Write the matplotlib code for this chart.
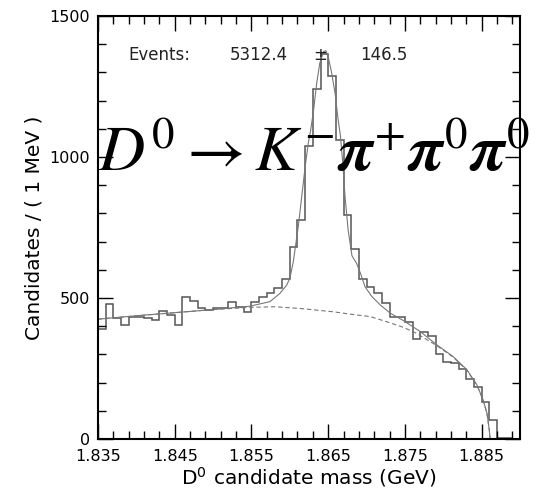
import numpy as np
import matplotlib
matplotlib.use("Agg")
import matplotlib.pyplot as plt

# ---------------- data ----------------
mass_lo = 1.835
bin_width = 0.001
counts = [390, 478, 428, 403, 434, 433, 428, 422, 455, 438,
          403, 502, 490, 463, 457, 463, 465, 487, 469, 452,
          487, 505, 519, 534, 566, 680, 775, 1040, 1240, 1365,
          1287, 1062, 796, 672, 566, 540, 519, 481, 431, 431,
          416, 356, 380, 366, 302, 273, 268, 249, 211, 184,
          130, 67, 3, 2, 0]

fit_x = [1.8350, 1.8400, 1.8450, 1.8500, 1.8548, 1.8574, 1.8587, 1.8596,
         1.8600, 1.86045, 1.8611, 1.86155, 1.8620, 1.8624, 1.8627, 1.8631,
         1.8635, 1.8639, 1.8644, 1.8647, 1.8650, 1.86546, 1.8659, 1.8663,
         1.8666, 1.8669, 1.8672, 1.8676, 1.8681, 1.8687, 1.8692, 1.8698,
         1.8707, 1.8718, 1.8731, 1.8748, 1.8770, 1.8791, 1.8813, 1.8831,
         1.8844, 1.8852, 1.8857, 1.8860, 1.8861]
fit_y = [425, 437, 448, 459, 471, 487, 516, 546,
         570, 628, 753, 859, 966, 1048, 1092, 1167,
         1261, 1332, 1374, 1377, 1356, 1297, 1226, 1131,
         1075, 978, 859, 741, 650, 623, 588, 540,
         505, 475, 446, 420, 381, 335, 292, 245,
         191, 138, 91, 32, 0]

bkg_x = [1.8350, 1.8400, 1.8450, 1.8500, 1.8550, 1.8580, 1.8613, 1.8635,
         1.8657, 1.8678, 1.8705, 1.8726, 1.8748, 1.8765, 1.8780, 1.8791,
         1.8813, 1.8831, 1.8844, 1.8852, 1.8857, 1.8860, 1.8861]
bkg_y = [425, 437, 448, 459, 467, 469, 463, 457,
         451, 443, 434, 416, 396, 375, 350, 332,
         290, 243, 190, 137, 90, 31, 0]

events_label = "Events:"
events_value = "5312.4"
events_pm = "\u00b1"
events_error = "146.5"
decay_text = r"$D^0 \rightarrow K^{-}\boldsymbol{\pi}^{+}\boldsymbol{\pi}^{0}\boldsymbol{\pi}^{0}$"
x_ticks = [1.835, 1.845, 1.855, 1.865, 1.875, 1.885]
y_ticks = [0, 500, 1000, 1500]

# ---------------- figure ----------------
plt.rcParams['font.family'] = ['DejaVu Sans']
plt.rcParams['mathtext.fontset'] = 'stix'

W, H = 537, 488
fig = plt.figure(figsize=(W/100, H/100), dpi=100)
ax = fig.add_axes([98/W, 1-439/H, 422/W, 423/H])

edges = mass_lo + bin_width*np.arange(len(counts)+1)
ax.stairs(counts, edges, color='#555555', lw=1.1)
ax.plot(fit_x, fit_y, color='#777777', lw=0.8)
ax.plot(bkg_x, bkg_y, color='#777777', lw=0.8, ls=(0, (4, 2.5)))

ax.set_xlim(1.835, 1.890)
ax.set_ylim(0, 1500)
ax.set_xticks(x_ticks)
ax.set_xticklabels(["%.3f" % v for v in x_ticks])
ax.set_xticks(np.arange(1.837, 1.890, 0.002), minor=True)
ax.set_yticks(y_ticks)
ax.set_yticks(np.arange(0, 1501, 100), minor=True)
ax.tick_params(which='both', direction='in', top=True, right=True,
               labelsize=11.5, width=1.0, color='black')
ax.tick_params(axis='x', which='major', pad=7)
ax.tick_params(axis='y', which='major', pad=6)
ax.tick_params(which='major', length=11)
ax.tick_params(which='minor', length=6)
for s in ax.spines.values():
    s.set_linewidth(1.5)

ax.set_xlabel(r"D$^{\mathregular{0}}$ candidate mass (GeV)", fontsize=14.5, labelpad=1)
ax.set_ylabel("Candidates / ( 1 MeV )", fontsize=14.5, labelpad=4)

def px_to_fig(x, y):
    return x/W, 1 - y/H

for txt, xpx, ha in [(events_label, 128, 'left'), (events_value, 230, 'left'),
                     (events_pm, 320, 'center'), (events_error, 360, 'left')]:
    fx, fy = px_to_fig(xpx, 55)
    fig.text(fx, fy, txt, fontsize=12, color='#222222', va='center', ha=ha)

fx, fy = px_to_fig(98, 171)
fig.text(fx, fy, decay_text, fontsize=46, color='black', ha='left', va='baseline')

fig.savefig("out.png", dpi=100)
